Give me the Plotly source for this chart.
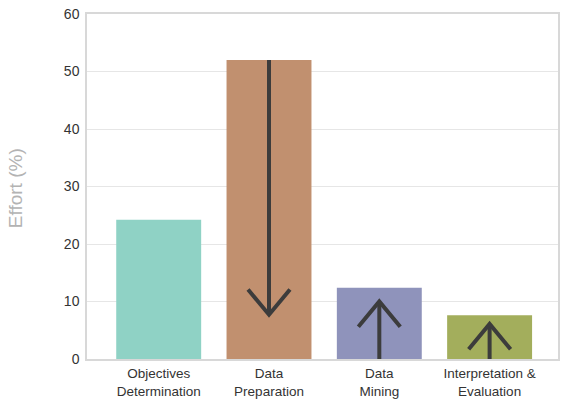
import plotly.graph_objects as go

# Share of effort spent in each stage of the knowledge-discovery process
stages = ["Objectives<br>Determination", "Data<br>Preparation", "Data<br>Mining", "Interpretation &<br>Evaluation"]
effort = [24.2, 52.0, 12.4, 7.6]
bar_colors = ["#8fd2c5", "#c1906f", "#8f93bb", "#a3ae5c"]

# Trend arrows drawn over bars: stage index, start value, tip value
arrow_stage = [1, 2, 3]
arrow_start = [52.0, 0.0, 0.0]
arrow_tip = [7.7, 10.0, 6.1]

y_ticks = [0, 10, 20, 30, 40, 50, 60]

fig = go.Figure()
fig.add_trace(go.Bar(
    x=list(range(len(stages))),
    y=effort,
    width=0.77,
    marker=dict(color=bar_colors, line=dict(width=0)),
    hoverinfo="skip",
))

wing_dx = 0.19
wing_dy = 4.4
arrow_color = "#3c3c3c"
for idx, y0, y1 in zip(arrow_stage, arrow_start, arrow_tip):
    direction = 1 if y1 > y0 else -1
    wing_y = y1 - direction * wing_dy
    # shaft
    fig.add_trace(go.Scatter(
        x=[idx, idx], y=[y0, y1], mode="lines",
        line=dict(color=arrow_color, width=4), hoverinfo="skip",
    ))
    # open chevron head
    fig.add_trace(go.Scatter(
        x=[idx - wing_dx, idx, idx + wing_dx], y=[wing_y, y1, wing_y], mode="lines",
        line=dict(color=arrow_color, width=4), hoverinfo="skip",
    ))

fig.update_layout(
    width=562, height=401,
    margin=dict(l=87, r=4, t=14, b=42, autoexpand=False),
    plot_bgcolor="white", paper_bgcolor="white",
    showlegend=False,
    font=dict(family="Liberation Sans, Arial, sans-serif", color="#333333"),
    xaxis=dict(
        range=[-0.65, 3.62],
        tickvals=list(range(len(stages))), ticktext=stages,
        tickfont=dict(size=13.5, color="#333333"),
        showgrid=False, zeroline=False,
        showline=True, linecolor="#d8d8d8", linewidth=1.5, mirror=True,
        ticks="outside", ticklen=1, tickcolor="rgba(0,0,0,0)",
        fixedrange=True,
    ),
    yaxis=dict(
        range=[0, 60], tickvals=y_ticks,
        tickfont=dict(size=14, color="#333333"),
        showgrid=True, gridcolor="#e6e6e6", gridwidth=1,
        zeroline=False,
        showline=True, linecolor="#d8d8d8", linewidth=1.5, mirror=True,
        ticks="outside", ticklen=3, tickcolor="rgba(0,0,0,0)",
        fixedrange=True,
    ),
    annotations=[dict(
        text="Effort (%)", textangle=-90,
        xref="paper", yref="paper", x=-0.153, y=0.495,
        xanchor="center", yanchor="middle", showarrow=False,
        font=dict(size=19, color="#b3b3b3"),
    )],
)

fig.write_html("out.html")
